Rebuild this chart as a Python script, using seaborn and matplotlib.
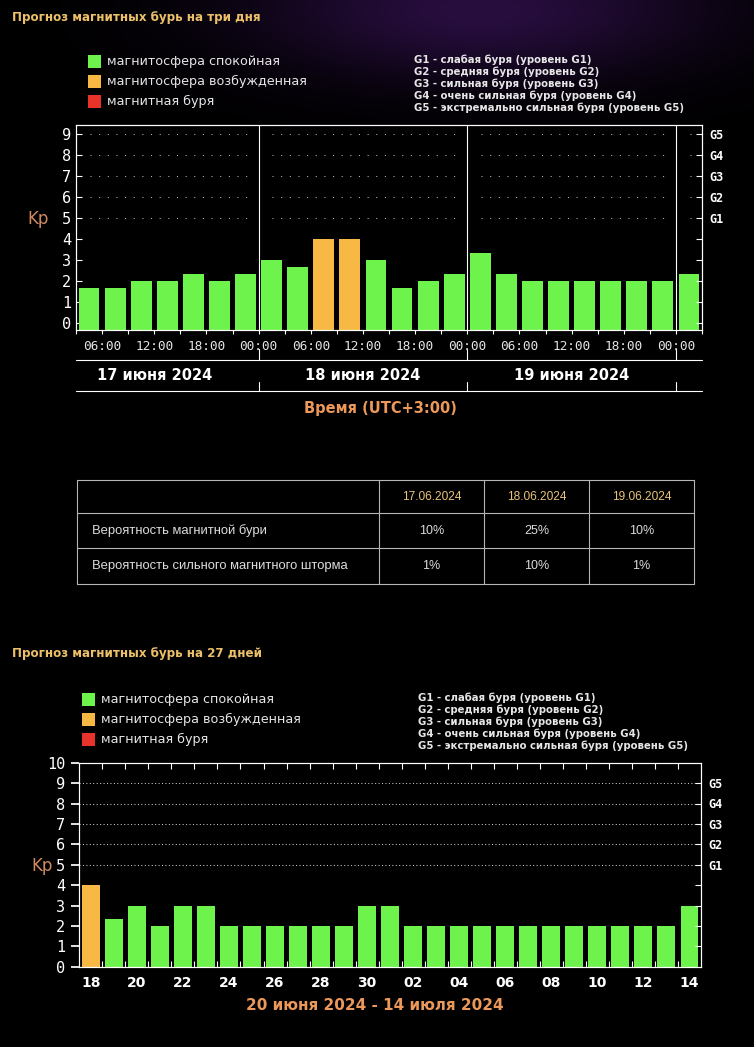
import numpy as np
import pandas as pd
import matplotlib
matplotlib.use("Agg")
import matplotlib.pyplot as plt
from matplotlib.patches import Rectangle
from matplotlib.transforms import blended_transform_factory
import seaborn as sns

# ---------------- data: 3-day forecast (3-hour slots, UTC+3) ----------------
slots3 = ["17 03", "17 06", "17 09", "17 12", "17 15", "17 18", "17 21",
          "18 00", "18 03", "18 06", "18 09", "18 12", "18 15", "18 18", "18 21",
          "19 00", "19 03", "19 06", "19 09", "19 12", "19 15", "19 18", "19 21",
          "20 00"]
kp3 = [1.67, 1.67, 2, 2, 2.33, 2, 2.33,
       3, 2.67, 4, 4, 3, 1.67, 2, 2.33,
       3.33, 2.33, 2, 2, 2, 2, 2, 2,
       2.33]
time_labels = ["06:00", "12:00", "18:00", "00:00",
               "06:00", "12:00", "18:00", "00:00",
               "06:00", "12:00", "18:00", "00:00"]
day_labels = ["17 июня 2024", "18 июня 2024", "19 июня 2024"]

# ---------------- data: probability table ----------------
table_dates = ["17.06.2024", "18.06.2024", "19.06.2024"]
table_rows = ["Вероятность магнитной бури", "Вероятность сильного магнитного шторма"]
prob_storm = ["10%", "25%", "10%"]
prob_strong = ["1%", "10%", "1%"]

# ---------------- data: 27-day forecast ----------------
days27 = ["18", "19", "20", "21", "22", "23", "24", "25", "26", "27", "28", "29", "30",
          "01", "02", "03", "04", "05", "06", "07", "08", "09", "10", "11", "12", "13", "14"]
kp27 = [4, 2.33, 3, 2, 3, 3, 2, 2, 2, 2, 2, 2, 3,
        3, 2, 2, 2, 2, 2, 2, 2, 2, 2, 2, 2, 2, 3]

# ---------------- texts ----------------
title3 = "Прогноз магнитных бурь на три дня"
title27 = "Прогноз магнитных бурь на 27 дней"
legend_states = ["магнитосфера спокойная", "магнитосфера возбужденная", "магнитная буря"]
g_levels = ["G1", "G2", "G3", "G4", "G5"]
g_desc = ["G1 - слабая буря (уровень G1)",
          "G2 - средняя буря (уровень G2)",
          "G3 - сильная буря (уровень G3)",
          "G4 - очень сильная буря (уровень G4)",
          "G5 - экстремально сильная буря (уровень G5)"]
xtitle3 = "Время (UTC+3:00)"
xtitle27 = "20 июня 2024 - 14 июля 2024"

GREEN, ORANGE, RED = "#6ef24c", "#f7b944", "#e8332a"
GOLD, PEACH, TXT = "#ecc068", "#eb985a", "#e6e6e6"
palette = {legend_states[0]: GREEN, legend_states[1]: ORANGE, legend_states[2]: RED}


def kp_state(v):
    if v >= 5:
        return legend_states[2]
    if v >= 4:
        return legend_states[1]
    return legend_states[0]


sns.set_theme(style="dark", rc={
    "figure.facecolor": "black", "axes.facecolor": "black", "savefig.facecolor": "black",
    "axes.edgecolor": "white", "text.color": "white", "xtick.color": "white",
    "ytick.color": "white", "axes.grid": False, "axes.linewidth": 0.8})
plt.rcParams["font.family"] = ["DejaVu Sans"]

SANS = ["DejaVu Sans"]
ARIAL = ["Liberation Sans", "DejaVu Sans"]
MONO = ["DejaVu Sans Mono"]
W, H = 754, 1047
fig = plt.figure(figsize=(W / 100, H / 100), dpi=100)

# background canvas in pixel coordinates
bg = fig.add_axes([0, 0, 1, 1], zorder=0)
bg.patch.set_visible(False)
bg.axis("off")
yy, xx = np.mgrid[0:140, 0:W]
glow = np.exp(-(((xx - 480) / 230.0) ** 2 + ((yy - 10) / 70.0) ** 2))
img = np.zeros((140, W, 4))
img[..., 0], img[..., 1], img[..., 2] = 0.35, 0.12, 0.55
img[..., 3] = glow * 0.45
bg.imshow(img, extent=(0, W, 140, 0), aspect="auto", interpolation="bilinear", zorder=0)
bg.set_xlim(0, W)
bg.set_ylim(H, 0)
bg.set_autoscale_on(False)


def rect(l, t, r, b):
    return [l / W, 1 - b / H, (r - l) / W, (b - t) / H]


def style_spines(a):
    for s in a.spines.values():
        s.set_visible(True)
        s.set_color("white")
        s.set_linewidth(0.8)


def draw_legend(title, ty, sx, sy0, gx, gy0):
    bg.text(12, ty, title, color=GOLD, fontsize=8.6, fontweight="bold",
            family=SANS, ha="left", va="center")
    for i, (lab, col) in enumerate(zip(legend_states, [GREEN, ORANGE, RED])):
        y = sy0 + i * 20.3
        bg.add_patch(Rectangle((sx, y - 6.5), 13, 13, color=col, lw=0))
        bg.text(sx + 19, y, lab, color=TXT, fontsize=9.2, family=SANS,
                ha="left", va="center")
    for i, lab in enumerate(g_desc):
        bg.text(gx, gy0 + i * 12, lab, color=TXT, fontsize=7.3, fontweight="bold",
                family=SANS, ha="left", va="center")


# ---------------- section 1 ----------------
draw_legend(title3, 17, 88, 61, 414, 60)

ax1 = fig.add_axes(rect(76, 125, 702, 330), zorder=2)
df3 = pd.DataFrame({"slot": slots3, "kp": kp3})
df3["state"] = df3["kp"].map(kp_state)
sns.barplot(data=df3, x="slot", y="kp", hue="state", order=slots3,
            hue_order=legend_states, palette=palette, dodge=False, width=0.8,
            saturation=1, legend=False, errorbar=None, linewidth=0,
            edgecolor="none", ax=ax1)
Y0 = -0.33
for p in ax1.patches:
    h = p.get_height()
    if h > 0:
        p.set_y(Y0)
        p.set_height(h - Y0)
ax1.set_xlim(-0.5, len(slots3) - 0.5)
ax1.set_ylim(Y0, 9.43)
ax1.set_xlabel("")
ax1.set_ylabel("")
ax1.set_xticks(np.arange(0.5, len(slots3) - 1, 2), labels=time_labels)
ax1.set_xticks(np.arange(-0.5, len(slots3), 2), minor=True)
ax1.tick_params(axis="x", which="both", bottom=True, direction="out", length=3,
                width=0.8, color="white")
ax1.tick_params(axis="x", which="major", labelsize=9.2, labelcolor=TXT, pad=4)
ax1.set_yticks(range(10))
ax1.tick_params(axis="y", left=True, direction="in", length=4, width=0.8,
                labelsize=11, labelcolor="white", pad=3.5)
for lab in ax1.get_xticklabels() + ax1.get_yticklabels():
    lab.set_fontfamily(MONO)
style_spines(ax1)

# dotted G-level grid, interrupted at the day separators
for y in range(5, 10):
    for x0, x1 in [(0.04, 6.07), (7.03, 14.04), (15.04, 22.08), (23.04, 23.25)]:
        ax1.plot([x0, x1], [y, y], color="#b8b8b8", lw=0.75, ls=(0, (1, 7.3)),
                 dash_capstyle="butt", zorder=1)
day_edges = [6.5, 14.5, 22.5]
for xd in day_edges:
    ax1.axvline(xd, color="white", lw=0.8, zorder=3)

ax1r = ax1.twinx()
ax1r.set_ylim(ax1.get_ylim())
ax1r.set_yticks(range(10), labels=[""] * 5 + g_levels)
ax1r.tick_params(axis="y", right=True, labelright=True, direction="in", length=4,
                 width=0.8, labelsize=8.5, labelcolor="white", pad=5)
for lab in ax1r.get_yticklabels():
    lab.set_fontfamily(MONO)
    lab.set_fontweight("bold")
style_spines(ax1r)

bg.text(38, 219, "Kp", color="#d08a62", fontsize=12, ha="center", va="center")

tr1 = blended_transform_factory(ax1.transData, bg.transData)
for yl in (360, 391):
    bg.plot([-0.5, len(slots3) - 0.5], [yl, yl], color="white", lw=0.8, transform=tr1)
for xd in day_edges:
    bg.plot([xd, xd], [349, 360], color="white", lw=0.8, transform=tr1)
    bg.plot([xd, xd], [382, 391], color="white", lw=0.8, transform=tr1)
for xc, lab in zip([2.5, 10.5, 18.5], day_labels):
    bg.text(xc, 375, lab, transform=tr1, color="white", fontsize=10.5,
            fontweight="bold", ha="center", va="center")
bg.text(380, 408, xtitle3, color=PEACH, fontsize=10.5, fontweight="bold",
        ha="center", va="center")

# ---------------- table ----------------
tx = [77, 379, 484, 589, 694]
ty = [480, 513, 548, 584]
for x in tx:
    bg.plot([x, x], [ty[0], ty[-1]], color="#b5b5b5", lw=0.8)
for y in ty:
    bg.plot([tx[0], tx[-1]], [y, y], color="#b5b5b5", lw=0.8)
ccx = [(tx[i] + tx[i + 1]) / 2 for i in range(1, 4)]
rcy = [(ty[i] + ty[i + 1]) / 2 for i in range(3)]
for cx, d in zip(ccx, table_dates):
    bg.text(cx, rcy[0], d, color="#e8c47a", fontsize=8.6, family=ARIAL,
            ha="center", va="center")
for r, (lab, vals) in enumerate(zip(table_rows, [prob_storm, prob_strong])):
    bg.text(92, rcy[r + 1], lab, color="#dcdcdc", fontsize=9.4, family=ARIAL,
            ha="left", va="center")
    for cx, v in zip(ccx, vals):
        bg.text(cx, rcy[r + 1], v, color="#dcdcdc", fontsize=9, family=ARIAL,
                ha="center", va="center")

# ---------------- section 2 ----------------
draw_legend(title27, 653, 82, 699, 418, 698)

ax2 = fig.add_axes(rect(79.3, 762.7, 701, 966.7), zorder=2)
df27 = pd.DataFrame({"day": days27, "kp": kp27})
df27["state"] = df27["kp"].map(kp_state)
sns.barplot(data=df27, x="day", y="kp", hue="state", order=days27,
            hue_order=legend_states, palette=palette, dodge=False, width=0.78,
            saturation=1, legend=False, errorbar=None, linewidth=0,
            edgecolor="none", ax=ax2)
ax2.set_xlim(-0.5, len(days27) - 0.5)
ax2.set_ylim(0, 10)
ax2.set_xlabel("")
ax2.set_ylabel("")
ax2.set_xticks(np.arange(0, len(days27), 2), labels=days27[::2])
ax2.set_xticks(np.arange(0.5, len(days27) - 1, 1), minor=True)
ax2.tick_params(axis="x", which="major", bottom=True, length=0, labelsize=10,
                labelcolor="white", pad=7)
ax2.tick_params(axis="x", which="minor", bottom=True, top=True, direction="in",
                length=4, width=0.8, color="white")
for lab in ax2.get_xticklabels():
    lab.set_fontweight("bold")
ax2.set_yticks(range(11))
ax2.tick_params(axis="y", left=False, labelsize=11, labelcolor="white", pad=4)
for lab in ax2.get_yticklabels():
    lab.set_fontfamily(MONO)
style_spines(ax2)
for y in range(5, 10):
    ax2.plot([-0.5, len(days27) - 0.5], [y, y], color="#c8c8c8", lw=0.75,
             ls=(0, (1, 2.3)), dash_capstyle="butt", zorder=1)

ax2r = ax2.twinx()
ax2r.set_ylim(0, 10)
ax2r.set_yticks(range(1, 10), labels=[""] * 4 + g_levels)
ax2r.tick_params(axis="y", right=True, labelright=True, direction="in", length=4,
                 width=0.8, labelsize=8.5, labelcolor="white", pad=5)
for lab in ax2r.get_yticklabels():
    lab.set_fontfamily(MONO)
    lab.set_fontweight("bold")
style_spines(ax2r)

bg.text(42, 866, "Kp", color="#d08a62", fontsize=12, ha="center", va="center")
bg.text(375, 1006, xtitle27, color=PEACH, fontsize=11, fontweight="bold",
        ha="center", va="center")

fig.savefig("out.png", dpi=100, facecolor="black")
